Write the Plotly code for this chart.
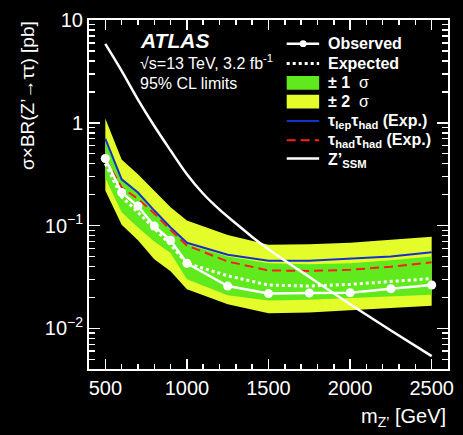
import plotly.graph_objects as go

# Z' mass points [GeV]
mass = [500, 600, 700, 800, 900, 1000, 1250, 1500, 1750, 2000, 2250, 2500]

# 95% CL upper limits on sigma x BR(Z' -> tautau) [pb]
observed = [0.45, 0.21, 0.155, 0.099, 0.072, 0.043, 0.0258, 0.0218, 0.0221, 0.0222, 0.0243, 0.0264]
expected = [0.40, 0.19, 0.135, 0.094, 0.065, 0.043, 0.0325, 0.0264, 0.0258, 0.0268, 0.0284, 0.0305]
sigma1_hi = [0.66, 0.29, 0.21, 0.135, 0.096, 0.066, 0.050, 0.043, 0.042, 0.043, 0.046, 0.050]
sigma1_lo = [0.29, 0.135, 0.096, 0.070, 0.054, 0.030, 0.0210, 0.0187, 0.0190, 0.0199, 0.0205, 0.0212]
sigma2_hi = [1.10, 0.44, 0.315, 0.218, 0.151, 0.112, 0.081, 0.0650, 0.0657, 0.068, 0.073, 0.078]
sigma2_lo = [0.22, 0.102, 0.072, 0.047, 0.036, 0.024, 0.0172, 0.0140, 0.0143, 0.0150, 0.0158, 0.0166]
lephad_exp = [0.70, 0.282, 0.21, 0.14, 0.096, 0.068, 0.052, 0.0454, 0.0454, 0.0473, 0.050, 0.055]
hadhad_exp = [0.45, 0.235, 0.182, 0.131, 0.0905, 0.064, 0.0448, 0.0366, 0.0362, 0.0372, 0.0398, 0.0439]

# Sequential SM-like Z' theory cross section x BR [pb]
zssm_mass = [500, 600, 700, 800, 900, 1000, 1100, 1200, 1300, 1400, 1500, 1750, 2000, 2250, 2500]
zssm = [5.85, 3.2, 1.68, 0.93, 0.537, 0.316, 0.204, 0.143, 0.105, 0.0776, 0.0589,
        0.0316, 0.0172, 0.00955, 0.00537]

# axis decorations
y_major = [0.01, 0.1, 1, 10]
y_major_text = ["10<sup>\u22122</sup>", "10<sup>\u22121</sup>", "1", "10"]
y_minor = [m * d for d in (0.001, 0.01, 0.1, 1) for m in range(2, 10)]

GREEN = "rgb(96,234,30)"
YELLOW = "rgb(228,252,42)"
BLUE = "rgb(22,48,205)"
RED = "rgb(255,30,30)"
WHITE = "white"
FONT = "Liberation Sans, Arial, sans-serif"

W, H = 463, 435
L, R, T, B = 89, 454, 15, 369


def px(x):
    return (x - L) / (R - L)


def py(y):
    return (B - y) / (B - T)


fig = go.Figure()

fig.add_trace(go.Scatter(x=mass + mass[::-1], y=sigma2_hi + sigma2_lo[::-1],
                         fill="toself", fillcolor=YELLOW, line=dict(width=0),
                         mode="lines", hoverinfo="skip"))
fig.add_trace(go.Scatter(x=mass + mass[::-1], y=sigma1_hi + sigma1_lo[::-1],
                         fill="toself", fillcolor=GREEN, line=dict(width=0),
                         mode="lines", hoverinfo="skip"))
fig.add_trace(go.Scatter(x=mass, y=lephad_exp, mode="lines",
                         line=dict(color=BLUE, width=2)))
fig.add_trace(go.Scatter(x=mass, y=hadhad_exp, mode="lines",
                         line=dict(color=RED, width=2, dash="9px,5px")))
fig.add_trace(go.Scatter(x=mass, y=expected, mode="lines",
                         line=dict(color=WHITE, width=3, dash="3px,3px")))
fig.add_trace(go.Scatter(x=mass, y=observed, mode="lines+markers",
                         line=dict(color=WHITE, width=2.5),
                         marker=dict(color=WHITE, size=9)))
fig.add_trace(go.Scatter(x=zssm_mass, y=zssm, mode="lines",
                         line=dict(color=WHITE, width=2.5, shape="spline", smoothing=1.0)))

axis_common = dict(showgrid=False, zeroline=False, showline=True, linecolor=WHITE,
                   linewidth=2, mirror="allticks", ticks="inside", tickcolor=WHITE,
                   tickwidth=1.5, tickfont=dict(family=FONT, size=20, color=WHITE))

fig.update_xaxes(range=[400, 2600], tickmode="array", tickvals=[500, 1000, 1500, 2000, 2500],
                 ticklen=10,
                 minor=dict(ticks="inside", ticklen=5, tickcolor=WHITE, tickwidth=1.5,
                            tickmode="linear", tick0=0, dtick=100, showgrid=False),
                 **axis_common)
fig.update_yaxes(type="log", range=[-2.395, 1.0], tickmode="array", tickvals=y_major,
                 ticktext=y_major_text, ticklen=11,
                 minor=dict(ticks="inside", ticklen=6, tickcolor=WHITE, tickwidth=1.5,
                            tickmode="array", tickvals=y_minor, showgrid=False),
                 **axis_common)

ann = []
shapes = []

# axis titles
ann.append(dict(text="\u03c3\u00d7BR(Z\u2019\u2192\u03c4\u03c4) [pb]", textangle=-90,
                x=px(27), y=py(92), xanchor="center", yanchor="middle",
                font=dict(family=FONT, size=19, color=WHITE)))
ann.append(dict(text="m<sub>Z\u2019</sub> [GeV]", x=px(454), y=py(418),
                xanchor="right", yanchor="middle",
                font=dict(family=FONT, size=20, color=WHITE)))

# experiment label
ann.append(dict(text="<b><i>ATLAS</i></b>", x=px(139), y=py(36), xanchor="left",
                yanchor="middle", font=dict(family=FONT, size=21, color=WHITE)))
ann.append(dict(text="\u221as=13 TeV, 3.2 fb<sup>-1</sup>", x=px(139), y=py(58),
                xanchor="left", yanchor="middle", font=dict(family=FONT, size=16, color=WHITE)))
ann.append(dict(text="95% CL limits", x=px(139), y=py(79), xanchor="left",
                yanchor="middle", font=dict(family=FONT, size=16, color=WHITE)))

# legend
lx0, lx1, tx = 290, 323, 330
rows = [
    ("obs", "<b>Observed</b>", 39),
    ("exp", "<b>Expected</b>", 59),
    ("s1", "<b>\u00b1 1</b>  \u03c3", 78.7),
    ("s2", "<b>\u00b1 2</b>  \u03c3", 97.7),
    ("lh", "<b>\u03c4<sub>lep</sub>\u03c4<sub>had</sub> (Exp.)</b>", 117.5),
    ("hh", "<b>\u03c4<sub>had</sub>\u03c4<sub>had</sub> (Exp.)</b>", 137),
    ("z", "<b>Z\u2019<sub>SSM</sub></b>", 155.5),
]
for key, label, yc in rows:
    ytxt = yc
    if key == "z":
        ytxt = yc + 2
    ann.append(dict(text=label, x=px(tx), y=py(ytxt), xanchor="left", yanchor="middle",
                    font=dict(family=FONT, size=16, color=WHITE)))
    if key == "obs":
        shapes.append(dict(type="line", xref="paper", yref="paper", x0=px(lx0), x1=px(lx1),
                           y0=py(yc), y1=py(yc), line=dict(color=WHITE, width=2.5)))
        shapes.append(dict(type="circle", xref="paper", yref="paper",
                           x0=px(306.7 - 3.5), x1=px(306.7 + 3.5), y0=py(yc + 3.5), y1=py(yc - 3.5),
                           fillcolor=WHITE, line=dict(color=WHITE, width=0)))
    elif key == "exp":
        shapes.append(dict(type="line", xref="paper", yref="paper", x0=px(lx0), x1=px(lx1),
                           y0=py(yc), y1=py(yc), line=dict(color=WHITE, width=3, dash="3px,3px")))
    elif key in ("s1", "s2"):
        shapes.append(dict(type="rect", xref="paper", yref="paper", x0=px(lx0), x1=px(lx1),
                           y0=py(yc + 7), y1=py(yc - 7),
                           fillcolor=GREEN if key == "s1" else YELLOW, line=dict(width=0)))
    elif key == "lh":
        shapes.append(dict(type="line", xref="paper", yref="paper", x0=px(lx0), x1=px(lx1),
                           y0=py(yc), y1=py(yc), line=dict(color=BLUE, width=2)))
    elif key == "hh":
        shapes.append(dict(type="line", xref="paper", yref="paper", x0=px(lx0), x1=px(lx1),
                           y0=py(yc), y1=py(yc), line=dict(color=RED, width=2, dash="9px,5px")))
    else:
        shapes.append(dict(type="line", xref="paper", yref="paper", x0=px(lx0), x1=px(lx1),
                           y0=py(yc), y1=py(yc), line=dict(color=WHITE, width=2.5)))

for a in ann:
    a.setdefault("xref", "paper")
    a.setdefault("yref", "paper")
    a["showarrow"] = False

fig.update_layout(
    width=W, height=H,
    margin=dict(l=L, r=W - R, t=T, b=H - B, pad=0),
    paper_bgcolor="black", plot_bgcolor="black",
    showlegend=False, hovermode=False,
    annotations=ann, shapes=shapes,
    font=dict(family=FONT, color=WHITE),
)

fig.write_html("out.html", config={"displayModeBar": False, "staticPlot": True})
